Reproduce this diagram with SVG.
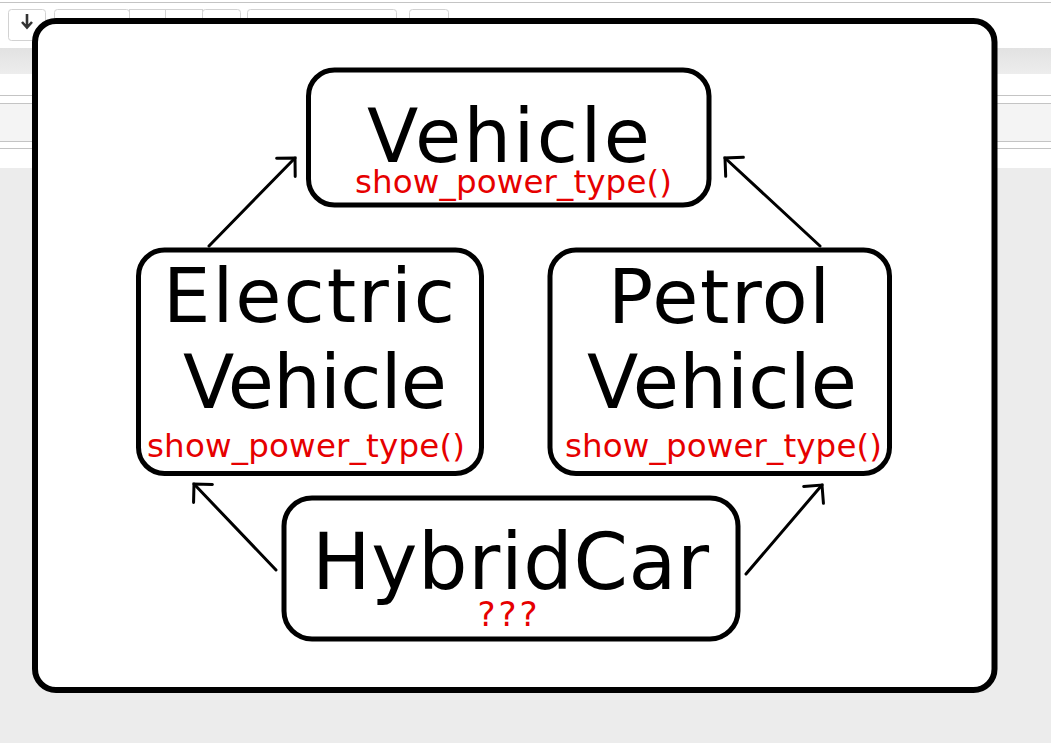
<svg xmlns="http://www.w3.org/2000/svg" width="1051" height="743" viewBox="0 0 1051 743">
  <defs>
    <style>
      .ui-line { stroke: #c4c4c4; stroke-width: 1; fill: none; }
      .btn { fill: #ffffff; stroke: #d2d2d2; stroke-width: 1; }
      .frame { fill: #ffffff; stroke: #000000; stroke-width: 6; }
      .node rect { fill: #ffffff; stroke: #000000; stroke-width: 5; }
      .title { font-family: "DejaVu Sans", "Liberation Sans", sans-serif; font-size: 75px; fill: #000000; text-anchor: middle; }
      .method { font-family: "DejaVu Sans", "Liberation Sans", sans-serif; font-size: 32.5px; fill: #e60000; text-anchor: middle; }
      .conn line { stroke: #000000; stroke-width: 3; stroke-linecap: round; marker-end: url(#arr); }
    </style>
    <linearGradient id="band" x1="0" y1="0" x2="0" y2="1">
      <stop offset="0" stop-color="#e2e2e2"/>
      <stop offset="1" stop-color="#ededed"/>
    </linearGradient>
    <marker id="arr" markerUnits="userSpaceOnUse" viewBox="-16 -16 20 32" markerWidth="20" markerHeight="32" refX="0" refY="0" orient="auto" overflow="visible">
      <path d="M-13,-13 L0,0 L-13,13" fill="none" stroke="#000000" stroke-width="3" stroke-linecap="round" stroke-linejoin="miter"/>
    </marker>
  </defs>

  <!-- background application UI -->
  <g id="background">
    <rect x="0" y="0" width="1051" height="743" fill="#ececec"/>
    <rect x="0" y="0" width="1051" height="168" fill="#ffffff"/>
    <line class="ui-line" x1="0" y1="2.5" x2="1051" y2="2.5" stroke="#e2e2e2"/>
    <rect x="0" y="48" width="1051" height="26" fill="url(#band)"/>
    <rect x="0" y="103" width="1051" height="38" fill="#f4f4f4"/>
    <line class="ui-line" x1="0" y1="95.5" x2="1051" y2="95.5"/>
    <line class="ui-line" x1="0" y1="103.5" x2="1051" y2="103.5"/>
    <line class="ui-line" x1="0" y1="141.5" x2="1051" y2="141.5"/>
    <line class="ui-line" x1="0" y1="148.5" x2="1051" y2="148.5"/>
    <rect class="btn" x="8.5" y="9.5" width="37" height="31" rx="3"/>
    <path d="M27,14 L27,27 M22,22 L27,27.5 L32,22" fill="none" stroke="#333333" stroke-width="2.6"/>
    <rect class="btn" x="54.5" y="9.5" width="75" height="31" rx="3"/>
    <rect class="btn" x="129.5" y="9.5" width="36" height="31"/>
    <rect class="btn" x="165.5" y="9.5" width="37" height="31"/>
    <rect class="btn" x="202.5" y="9.5" width="38" height="31" rx="3"/>
    <rect class="btn" x="247.5" y="9.5" width="149" height="31" rx="3"/>
    <rect class="btn" x="409.5" y="9.5" width="39" height="31" rx="3"/>
  </g>

  <rect class="frame" x="35" y="21" width="959.5" height="669" rx="21"/>

  <g id="connectors" class="conn">
    <line x1="209" y1="246" x2="295" y2="158"/>
    <line x1="820" y1="246" x2="725" y2="158"/>
    <line x1="276" y1="570" x2="194" y2="484"/>
    <line x1="746" y1="574" x2="822" y2="485"/>
  </g>

  <g id="node-vehicle" class="node">
    <rect x="308.5" y="70" width="400.5" height="135" rx="26"/>
    <text class="title" x="508.5" y="162" textLength="283">Vehicle</text>
    <text class="method" x="513.5" y="193" textLength="317">show_power_type()</text>
  </g>

  <g id="node-electric" class="node">
    <rect x="138.5" y="250" width="343" height="223.5" rx="26"/>
    <text class="title" x="309" y="322" textLength="292">Electric</text>
    <text class="title" x="315" y="408" textLength="264">Vehicle</text>
    <text class="method" x="306" y="457" textLength="318">show_power_type()</text>
  </g>

  <g id="node-petrol" class="node">
    <rect x="550" y="250" width="339.5" height="223.5" rx="26"/>
    <text class="title" x="719" y="323" textLength="222">Petrol</text>
    <text class="title" x="722" y="408" textLength="270">Vehicle</text>
    <text class="method" x="723.5" y="457" textLength="317">show_power_type()</text>
  </g>

  <g id="node-hybrid" class="node">
    <rect x="284" y="498" width="454" height="141" rx="28"/>
    <text class="title" x="510.5" y="589" textLength="397" style="font-size:78px">HybridCar</text>
    <text class="method" x="509" y="626" style="font-size:34px" letter-spacing="3">???</text>
  </g>
</svg>
